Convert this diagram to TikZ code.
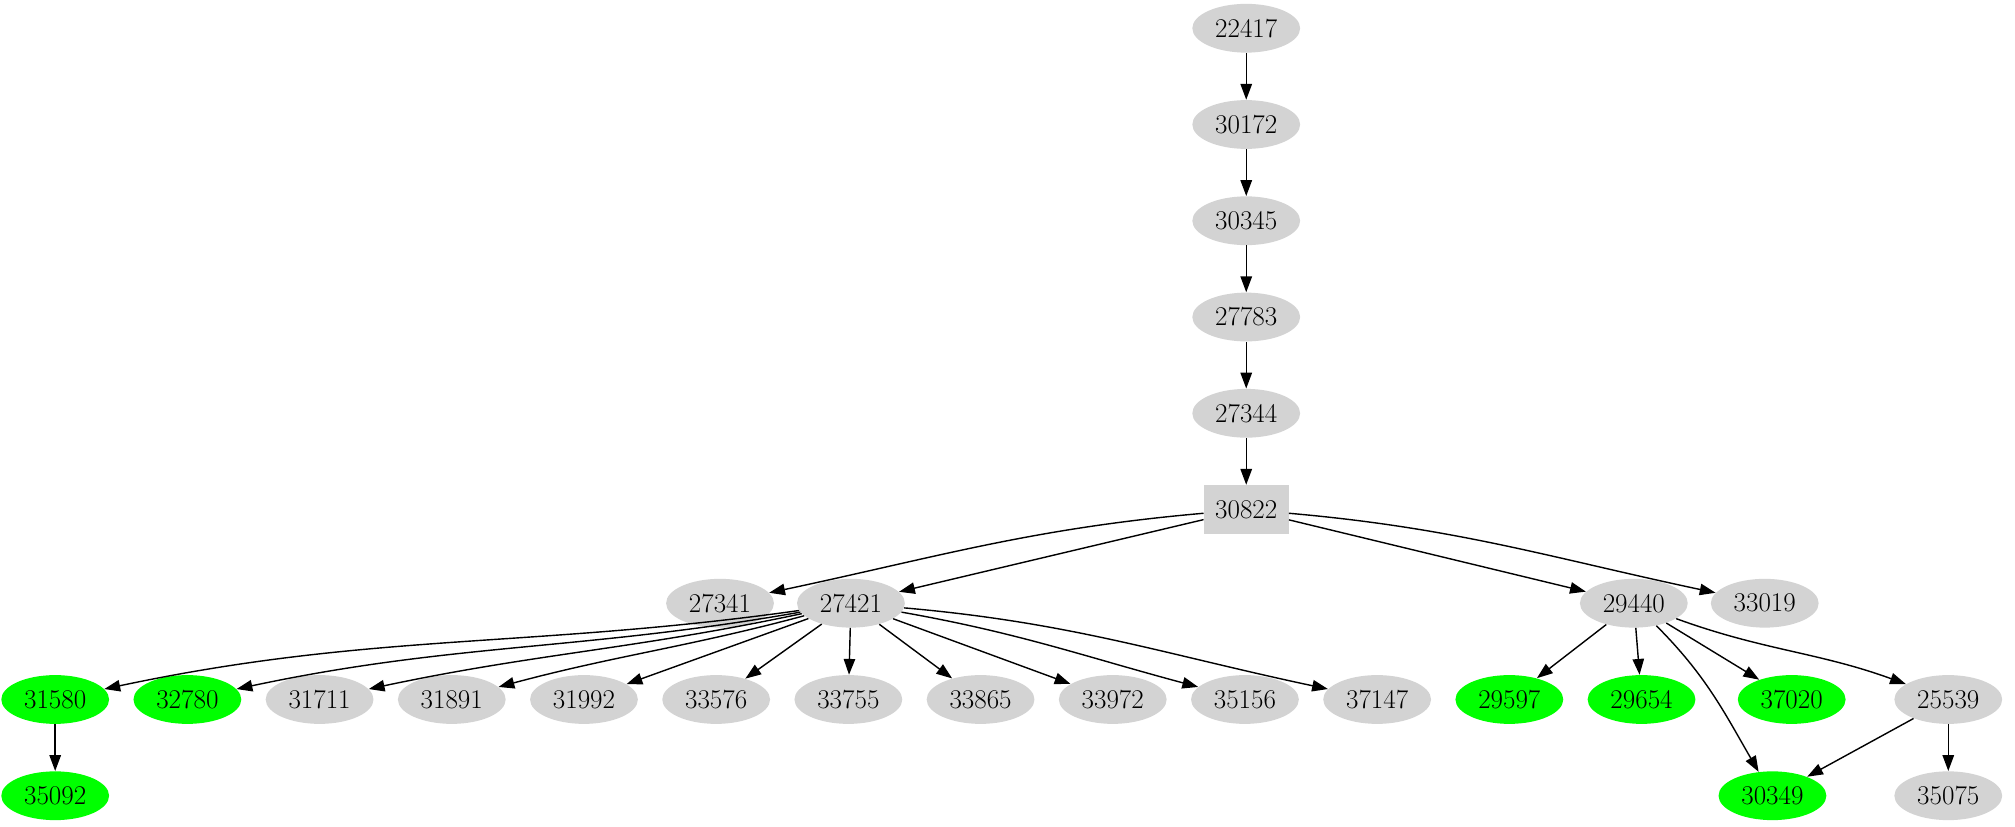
\documentclass[tikz,border=0pt]{standalone}
\usepackage{tikz}
\usetikzlibrary{shapes.geometric,arrows.meta}
\definecolor{nodegray}{RGB}{211,211,211}
\definecolor{nodegreen}{RGB}{0,255,0}
\begin{document}
\begin{tikzpicture}[x=0.02567cm,y=-0.02567cm]
		% Define node and edge styles
		\tikzset{gnode/.style={ellipse,fill=nodegray,minimum width=84*0.02567cm,minimum height=38*0.02567cm,inner sep=0pt,font=\fontsize{15.4}{18}\selectfont},
			hit/.style={gnode,fill=nodegreen},
			gbox/.style={rectangle,fill=nodegray,minimum width=66*0.02567cm,minimum height=38*0.02567cm,font=\fontsize{15.4}{18}\selectfont},
			edge/.style={-{Triangle[length=9pt,width=6.5pt]},line width=0.8pt}}
		\useasboundingbox (0,0) rectangle (1570,644);
		
		% Chain at the top
		\node[gnode] (n22417) at (971,22) {22417};
		\node[gnode] (n30172) at (971,97) {30172};
		\node[gnode] (n30345) at (971,172) {30345};
		\node[gnode] (n27783) at (971,247) {27783};
		\node[gnode] (n27344) at (971,322) {27344};
		\node[gbox] (n30822) at (971,397) {30822};
		
		% Second row
		\node[gnode] (n27341) at (561,470) {27341};
		\node[gnode] (n27421) at (663,470) {27421};
		\node[gnode] (n29440) at (1273,470) {29440};
		\node[gnode] (n33019) at (1375,470) {33019};
		
		% Third row
		\node[hit] (n31580) at (43,545) {31580};
		\node[hit] (n32780) at (146,545) {32780};
		\node[gnode] (n31711) at (249,545) {31711};
		\node[gnode] (n31891) at (352,545) {31891};
		\node[gnode] (n31992) at (455,545) {31992};
		\node[gnode] (n33576) at (558,545) {33576};
		\node[gnode] (n33755) at (661,545) {33755};
		\node[gnode] (n33865) at (764,545) {33865};
		\node[gnode] (n33972) at (867,545) {33972};
		\node[gnode] (n35156) at (970,545) {35156};
		\node[gnode] (n37147) at (1073,545) {37147};
		\node[hit] (n29597) at (1176,545) {29597};
		\node[hit] (n29654) at (1279,545) {29654};
		\node[hit] (n37020) at (1396,545) {37020};
		\node[gnode] (n25539) at (1518,545) {25539};
		
		% Bottom row
		\node[hit] (n35092) at (43,620) {35092};
		\node[hit] (n30349) at (1381,620) {30349};
		\node[gnode] (n35075) at (1518,620) {35075};
		
		% Straight edges
		\draw[edge] (n22417) -- (n30172);
		\draw[edge] (n30172) -- (n30345);
		\draw[edge] (n30345) -- (n27783);
		\draw[edge] (n27783) -- (n27344);
		\draw[edge] (n27344) -- (n30822);
		\draw[edge] (n30822) -- (n27421);
		\draw[edge] (n30822) -- (n29440);
		\draw[edge] (n31580) -- (n35092);
		\draw[edge] (n27421) -- (n31992);
		\draw[edge] (n27421) -- (n33576);
		\draw[edge] (n27421) -- (n33755);
		\draw[edge] (n27421) -- (n33865);
		\draw[edge] (n27421) -- (n33972);
		\draw[edge] (n29440) -- (n29597);
		\draw[edge] (n29440) -- (n29654);
		\draw[edge] (n29440) -- (n37020);
		\draw[edge] (n25539) -- (n30349);
		\draw[edge] (n25539) -- (n35075);
		
		% Curved edges
		\draw[edge] (n30822) to[out=185,in=12] (n27341);
		\draw[edge] (n30822) to[out=-5,in=168] (n33019);
		\draw[edge] (n29440) to[out=-20,in=160] (n25539);
		\draw[edge] (n29440) to[out=-45,in=120] (n30349);
		\draw[edge] (n27421) to[out=-10,in=165] (n35156);
		\draw[edge] (n27421) to[out=-5,in=168] (n37147);
		\draw[edge] (n27421) to[out=195,in=15] (n31891);
		\draw[edge] (n27421) to[out=192,in=12] (n31711);
		\draw[edge] (n27421) to[out=190,in=12] (n32780);
		\draw[edge] (n27421) to[out=188,in=12] (n31580);
	\end{tikzpicture}
\end{document}
